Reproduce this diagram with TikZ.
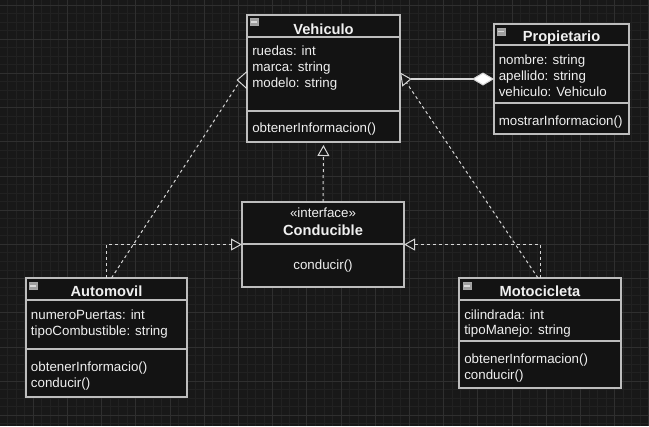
\documentclass[tikz,border=0pt]{standalone}
\usepackage{fontspec}
\setmainfont{Liberation Sans}
\usepackage{xcolor}
\usetikzlibrary{positioning, arrows.meta}

\definecolor{bgcol}{HTML}{181818}
\definecolor{gridminor}{HTML}{212121}
\definecolor{gridmajor}{HTML}{2F2F2F}
\definecolor{boxfill}{HTML}{131313}
\definecolor{edgecol}{HTML}{BDBDBD}
\definecolor{linkcol}{HTML}{D6D6D6}
\definecolor{txtcol}{HTML}{F0F0F0}
\newcommand{\pxu}{0.75pt}

\tikzset{
    minorline/.style={draw=gridminor, line width=0.75pt},
    majorline/.style={draw=gridmajor, line width=0.75pt},
    classbox/.style={rectangle, draw=edgecol, fill=boxfill, line width=0.8pt, inner sep=0pt, outer sep=0pt, anchor=north west},
    sepline/.style={draw=edgecol, line width=0.8pt},
    classname/.style={font=\fontsize{11}{13}\selectfont\bfseries, text=txtcol, inner sep=0pt, anchor=base},
    member/.style={font=\fontsize{10}{12}\selectfont, text=txtcol, inner sep=0pt, anchor=base west},
    stereo/.style={font=\fontsize{10}{12}\selectfont, text=txtcol, inner sep=0pt, anchor=base},
    collapse/.style={rectangle, draw=gray!70, fill=gray!75, minimum width=6pt, minimum height=5.25pt, inner sep=0pt,
        path picture={\draw[white!85!black, line width=1pt] ([xshift=-2pt]path picture bounding box.center) -- ([xshift=2pt]path picture bounding box.center);}},
    realize/.style={draw=linkcol, line width=0.75pt, dash pattern=on 2.25pt off 2.25pt},
    hollowtip/.style={draw=linkcol, fill=bgcol, line width=0.75pt, line join=miter},
    assoc/.style={draw=linkcol, line width=0.8pt},
    opentri/.tip={Triangle[length=8.25pt, width=9pt, fill=bgcol, line join=miter]}
}

\begin{document}
\begin{tikzpicture}[x=0.75pt, y=-0.75pt]
                \useasboundingbox (0,0) rectangle (649,426);
                \fill[bgcol] (0,0) rectangle (649,426);
                \foreach \k in {0,...,76} \draw[minorline] ({-0.9+8.55*\k},0) -- ({-0.9+8.55*\k},426);
                \foreach \k in {0,...,49} \draw[minorline] (0,{5+8.55*\k}) -- (649,{5+8.55*\k});
                \foreach \k in {0,...,19} \draw[majorline] ({-0.9+34.2*\k},0) -- ({-0.9+34.2*\k},426);
                \foreach \k in {0,...,12} \draw[majorline] (0,{5+34.2*\k}) -- (649,{5+34.2*\k});

                \node[classbox, minimum width=153*\pxu, minimum height=127*\pxu] (veh) at (247,15) {};
                \node[classbox, minimum width=135*\pxu, minimum height=110*\pxu] (prop) at (494,24) {};
                \node[classbox, minimum width=162*\pxu, minimum height=85*\pxu] (cond) at (242,202) {};
                \node[classbox, minimum width=161*\pxu, minimum height=119*\pxu] (auto) at (26,278) {};
                \node[classbox, minimum width=162*\pxu, minimum height=110*\pxu] (moto) at (459,278) {};

                \draw[sepline] (veh.north west |- 0,37) -- (veh.north east |- 0,37);
                \draw[sepline] (veh.north west |- 0,111) -- (veh.north east |- 0,111);
                \draw[sepline] (prop.north west |- 0,45) -- (prop.north east |- 0,45);
                \draw[sepline] (prop.north west |- 0,103) -- (prop.north east |- 0,103);
                \draw[sepline] (cond.north west |- 0,244) -- (cond.north east |- 0,244);
                \draw[sepline] (auto.north west |- 0,300) -- (auto.north east |- 0,300);
                \draw[sepline] (auto.north west |- 0,349) -- (auto.north east |- 0,349);
                \draw[sepline] (moto.north west |- 0,300) -- (moto.north east |- 0,300);
                \draw[sepline] (moto.north west |- 0,341) -- (moto.north east |- 0,341);

                \node[collapse] (vehicon) at ([shift={(7,7)}]veh.north west) {};
                \node[collapse] (propicon) at ([shift={(7,7.5)}]prop.north west) {};
                \node[collapse] (autoicon) at ([shift={(7,8)}]auto.north west) {};
                \node[collapse] (motoicon) at ([shift={(8,8)}]moto.north west) {};

                \node[classname] (vehname) at (323.5,34) {Vehiculo};
                \node[member] (vehattra) at (252,55.7) {ruedas: int};
                \node[member] (vehattrb) at (252,71.5) {marca: string};
                \node[member] (vehattrc) at (252,87.3) {modelo: string};
                \node[member] (vehopa) at (252,132.5) {obtenerInformacion()};

                \node[classname] (propname) at (561.5,41.7) {Propietario};
                \node[member] (propattra) at (498.5,64.3) {nombre: string};
                \node[member] (propattrb) at (498.5,80.2) {apellido: string};
                \node[member] (propattrc) at (498.5,96) {vehiculo: Vehiculo};
                \node[member] (propopa) at (498.5,125) {mostrarInformacion()};

                \node[stereo] (condstereo) at (323,217.3) {«interface»};
                \node[classname] (condname) at (323,235.7) {Conducible};
                \node[stereo] (condopa) at (323,269.3) {conducir()};

                \node[classname] (autoname) at (106.5,296.7) {Automovil};
                \node[member] (autoattra) at (30.7,319) {numeroPuertas: int};
                \node[member] (autoattrb) at (30.7,335) {tipoCombustible: string};
                \node[member] (autoopa) at (30.7,371) {obtenerInformacio()};
                \node[member] (autoopb) at (30.7,387.5) {conducir()};

                \node[classname] (motoname) at (540,296.7) {Motocicleta};
                \node[member] (motoattra) at (464,319) {cilindrada: int};
                \node[member] (motoattrb) at (464,334.5) {tipoManejo: string};
                \node[member] (motoopa) at (464,363.3) {obtenerInformacion()};
                \node[member] (motoopb) at (464,379) {conducir()};

                \coordinate (vehleft) at ([shift={(-6,1)}]veh.west);
                \coordinate (vehright) at ([shift={(5,2)}]veh.east);
                \coordinate (vehtip) at ([shift={(10.7,0.5)}]veh.east);

                \draw[realize, -opentri, shorten >=2.25pt] (cond.north) -- (veh.south);
                \draw[realize, -opentri] (auto.north) |- (cond.west);
                \draw[realize, -opentri] (moto.north) |- (cond.east);
                \draw[realize] ([xshift=5*\pxu]auto.north) -- (vehleft);
                \draw[realize] ([xshift=-2*\pxu]moto.north) -- (vehright);
                \draw[hollowtip] ([shift={(0,-7)}]veh.west) -- ([shift={(-9.7,1.5)}]veh.west) -- ([shift={(-0.5,9.8)}]veh.west) -- cycle;
                \draw[hollowtip] ([shift={(0.7,-5.2)}]veh.east) -- (vehtip) -- ([shift={(2.7,7.2)}]veh.east) -- cycle;
                \draw[assoc, -{Diamond[length=16.5pt, width=9.75pt, fill=white, line join=miter]}] (vehtip) -- (prop.west);
            \end{tikzpicture}
\end{document}
